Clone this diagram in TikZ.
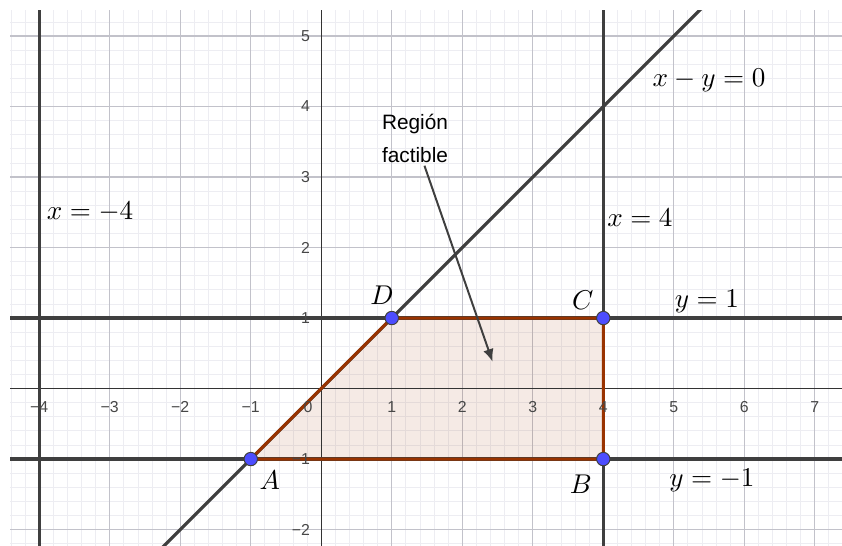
\documentclass[tikz,border=0pt]{standalone}
\usepackage{fontspec}
\newfontfamily\ggbfont{Liberation Sans}
\usetikzlibrary{arrows.meta}
\definecolor{gridminor}{HTML}{EDEDF2}
\definecolor{gridmajor}{HTML}{C2C2CA}
\definecolor{rectaink}{HTML}{3F3F3F}
\definecolor{regionbrown}{HTML}{993300}
\definecolor{puntoblue}{HTML}{4D4DFF}
\tikzset{
  recta/.style={rectaink,line width=1.25pt},
  borde/.style={regionbrown,line width=1.2pt,line join=round},
  punto/.style={circle,draw=black!75,fill=puntoblue,line width=.4pt,inner sep=0pt,minimum size=1.9mm},
  eti/.style={font=\fontsize{10.5}{12}\selectfont,inner sep=0pt},
  numlab/.style={font=\ggbfont\fontsize{6.4}{7}\selectfont,text=black!72,inner sep=0pt},
}

\begin{document}
\begin{tikzpicture}[x=1cm,y=1cm]
  \useasboundingbox (-4.557,-2.220) rectangle (7.386,5.511);
  \begin{scope}
    \clip (-4.415,-2.220) rectangle (7.386,5.369);
    % cuadricula
    \draw[gridminor,line width=.35pt] (-4.6,-2.4) grid[step=.2] (7.6,5.6);
    \draw[gridmajor,line width=.5pt] (-4.6,-2.4) grid[step=1] (7.6,5.6);
    % region factible
    \coordinate (A) at (-1,-1);
    \coordinate (B) at (4,-1);
    \coordinate (C) at (4,1);
    \coordinate (D) at (1,1);
    \fill[regionbrown,fill opacity=.1] (A) -- (B) -- (C) -- (D) -- cycle;
    % ejes
    \draw[black!80,line width=.5pt] (-4.6,0) -- (7.6,0);
    \draw[black!80,line width=.5pt] (0,-2.4) -- (0,5.6);
    % rectas
    \draw[recta] (-4,-2.4) -- (-4,5.6);
    \draw[recta] (4,-2.4) -- (4,5.6);
    \draw[recta] (-4.6,1) -- (7.6,1);
    \draw[recta] (-4.6,-1) -- (7.6,-1);
    \draw[recta] (-2.4,-2.4) -- (5.6,5.6);
    \draw[borde] (A) -- (B) -- (C) -- (D) -- cycle;
  \end{scope}
  % numeros de los ejes
  \foreach \i/\t in {-4/−4,-3/−3,-2/−2,-1/−1,1/1,2/2,3/3,4/4,5/5,6/6,7/7}
    \node[numlab,anchor=north] (tx\i) at (\i,-.18) {\t};
  \foreach \j/\t in {-2/−2,-1/−1,1/1,2/2,3/3,4/4,5/5}
    \node[numlab,anchor=east] (ty\j) at (-.155,\j) {\t};
  \node[numlab,anchor=north east] (t0) at (-.12,-.18) {0};
  % puntos
  \node[punto] (pA) at (A) {};
  \node[punto] (pB) at (B) {};
  \node[punto] (pC) at (C) {};
  \node[punto] (pD) at (D) {};
  \node[eti] (labA) at (-.73,-1.30) {$A$};
  \node[eti] (labB) at (3.68,-1.36) {$B$};
  \node[eti] (labC) at (3.71,1.25) {$C$};
  \node[eti] (labD) at (.86,1.33) {$D$};
  % ecuaciones
  \node[eti] (eqdiag) at (5.50,4.376) {$x-y=0$};
  \node[eti] (eqxneg) at (-3.28,2.50) {$x=-4$};
  \node[eti] (eqxpos) at (4.52,2.42) {$x=4$};
  \node[eti] (eqyone) at (5.47,1.24) {$y=1$};
  \node[eti] (eqyneg) at (5.54,-1.30) {$y=-1$};
  % etiqueta de la region
  \node[font=\ggbfont\fontsize{8.4}{13.2}\selectfont,align=center,inner sep=1pt] (region) at (1.33,3.545) {Región\\factible};
  \coordinate (tip) at (2.43,.38);
  \draw[rectaink,line width=.8pt,-{Latex[length=1.8mm,width=1.5mm]}] (region) -- (tip);
\end{tikzpicture}
\end{document}
